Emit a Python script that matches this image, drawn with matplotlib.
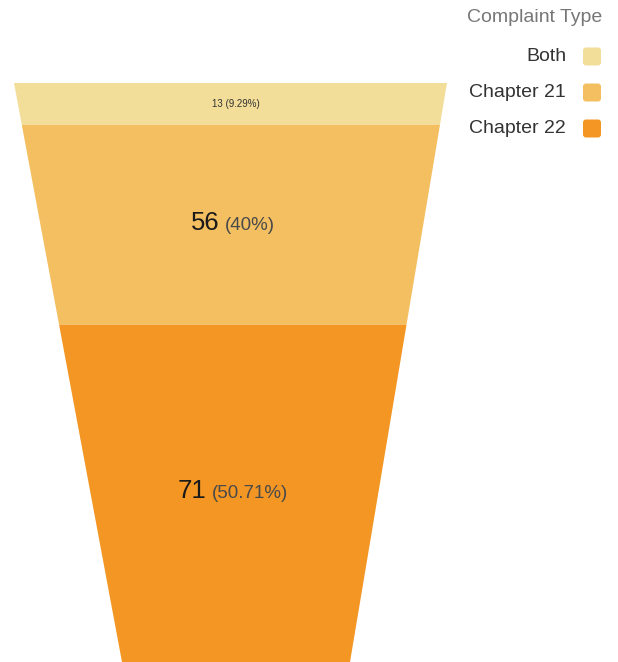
import numpy as np
import matplotlib
matplotlib.use('Agg')
import matplotlib.pyplot as plt
from matplotlib.patches import Polygon, FancyBboxPatch

# data
categories = ['Both', 'Chapter 21', 'Chapter 22']
counts = [13, 56, 71]
pct_labels = ['9.29%', '40%', '50.71%']
colors = ['#F3DE99', '#F4BF61', '#F39623']

# funnel outline in pixel space (layout only)
TOP_Y, BOT_Y = 83, 662
TOP_L, TOP_R = 14, 447
BOT_L, BOT_R = 122, 350

plt.rcParams['font.family'] = ['Liberation Sans', 'DejaVu Sans']

fig = plt.figure(figsize=(6.18, 6.62), dpi=100)
ax = fig.add_axes([0, 0, 1, 1])
ax.set_xlim(0, 618)
ax.set_ylim(662, 0)
ax.axis('off')


def edges(y):
    t = (y - TOP_Y) / (BOT_Y - TOP_Y)
    return TOP_L + (BOT_L - TOP_L) * t, TOP_R + (BOT_R - TOP_R) * t


# segment boundaries so that each band's area matches its share
H = BOT_Y - TOP_Y
W0 = TOP_R - TOP_L
W1 = BOT_R - BOT_L
k = (W0 - W1) / H
total_area = (W0 + W1) / 2 * H
fracs = np.concatenate([[0], np.cumsum(counts) / np.sum(counts)])
bounds = []
for f in fracs:
    d = (W0 - np.sqrt(max(W0 ** 2 - 2 * k * f * total_area, 0))) / k
    bounds.append(TOP_Y + d)

for i, cat in enumerate(categories):
    y0, y1 = bounds[i], bounds[i + 1]
    l0, r0 = edges(y0)
    l1, r1 = edges(y1)
    ax.add_patch(Polygon([(l0, y0), (r0, y0), (r1, y1), (l1, y1)],
                         closed=True, facecolor=colors[i], edgecolor='none'))

# labels
renderer = fig.canvas.get_renderer()
cx = 233
for i, cat in enumerate(categories):
    ymid = (bounds[i] + bounds[i + 1]) / 2
    if i == 0:
        ax.text(cx + 3, ymid, f'{counts[i]} ({pct_labels[i]})', fontsize=7,
                color='#333333', ha='center', va='center')
        continue
    base = ymid + 5
    t1 = ax.text(0, base, str(counts[i]), fontsize=18.5, color='#1a1a1a',
                 ha='left', va='baseline')
    t2 = ax.text(0, base, f'({pct_labels[i]})', fontsize=13.5, color='#4a4a4a',
                 ha='left', va='baseline')
    w1 = t1.get_window_extent(renderer).width
    w2 = t2.get_window_extent(renderer).width
    gap = 6
    start = cx - (w1 + gap + w2) / 2
    t1.set_x(start)
    t2.set_x(start + w1 + gap)

# legend
ax.text(602, 17, 'Complaint Type', fontsize=14, color='#777777',
        ha='right', va='center')
for i, cat in enumerate(categories):
    yc = 56.5 + 36 * i
    ax.text(566, yc, cat, fontsize=14, color='#333333', ha='right', va='center')
    ax.add_patch(FancyBboxPatch((583, yc - 9), 18, 18,
                                boxstyle='round,pad=0,rounding_size=3',
                                facecolor=colors[i], edgecolor='none'))

fig.savefig('out.png', dpi=100)
